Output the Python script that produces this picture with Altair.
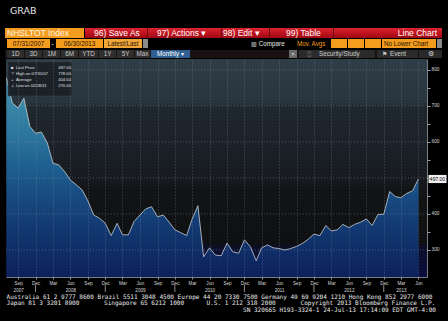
import altair as alt
import pandas as pd

# ---------------- data ----------------
month_dates = pd.date_range("2007-07-01", periods=72, freq="MS").strftime("%Y-%m-%d").tolist()
new_home_sales = [778, 708, 694, 721, 643, 624, 627, 597, 541, 536, 518, 494,
                  481, 467, 436, 397, 388, 374, 340, 374, 342, 342, 379, 397,
                  414, 420, 392, 397, 377, 356, 348, 340, 385, 423, 281, 306,
                  286, 284, 319, 295, 291, 328, 309, 270, 306, 314, 306, 304,
                  300, 304, 310, 318, 330, 344, 340, 368, 353, 356, 371, 362,
                  371, 377, 386, 368, 399, 399, 462, 448, 445, 457, 464, 497]
y_grid_levels = [300, 400, 500, 600, 700, 800]
y_tick_levels = [300, 350, 400, 450, 500, 550, 600, 650, 700, 750, 800]
x_tick_months = [(2007, 9), (2007, 12), (2008, 3), (2008, 6), (2008, 9), (2008, 12),
                 (2009, 3), (2009, 6), (2009, 9), (2009, 12), (2010, 3), (2010, 6),
                 (2010, 9), (2010, 12), (2011, 3), (2011, 6), (2011, 9), (2011, 12),
                 (2012, 3), (2012, 6), (2012, 9), (2012, 12), (2013, 3), (2013, 6)]
year_breaks = ["2007-12-01", "2008-12-01", "2009-12-01", "2010-12-01", "2011-12-01", "2012-12-01"]
legend_names = ["Last Price", "High on 07/31/07", "Average", "Low on 02/28/11"]
legend_values = ["497.00", "778.00", "404.64", "270.00"]
legend_icons = ["\u25a0", "\u22a4", "+", "\u22a5"]
footer_line1 = "Australia 61 2 9777 8600 Brazil 5511 3048 4500 Europe 44 20 7330 7500 Germany 49 69 9204 1210 Hong Kong 852 2977 6000"
footer_line2 = ["Japan 81 3 3201 8900", "Singapore 65 6212 1000", "U.S. 1 212 318 2000",
                "Copyright 2013 Bloomberg Finance L.P."]
footer_line3 = "SN 320665 H193-3324-1 24-Jul-13 17:14:09 EDT  GMT-4:00"

# ---------------- layout ----------------
W, H = 421, 218
PL, PT, PR, PB = 6, 59, 21, 44
SANS = "Liberation Sans"
MONO = "DejaVu Sans Mono"
one = alt.Data(values=[{"k": 0}])


def cx(x):
    return x - PL


def cy(y):
    return y - PT


def box(x0, y0, x1, y1, color, **kw):
    return alt.Chart(one).mark_rect(color=color, **kw).encode(
        x=alt.value(cx(x0)), x2=alt.value(cx(x1)), y=alt.value(cy(y0)), y2=alt.value(cy(y1)))


def label(x, y, s, size, color, align="left", font=SANS, weight="normal"):
    return alt.Chart(one).mark_text(text=s, fontSize=size, color=color, align=align,
                                    baseline="middle", font=font, fontWeight=weight).encode(
        x=alt.value(cx(x)), y=alt.value(cy(y)))


def grad(stops):
    return alt.LinearGradient(gradient="linear", x1=0, x2=0, y1=0, y2=1,
                              stops=[alt.GradientStop(color=c, offset=o) for c, o in stops])


xs = alt.Scale(type="utc", domain=[alt.DateTime(year=2007, month=6, date=29, utc=True),
                                   alt.DateTime(year=2013, month=7, date=16, utc=True)])
ys = alt.Scale(domain=[225, 830], zero=False, nice=False, clamp=True)

year_test = ("(utcmonth(datum.value) == 5 && utcyear(datum.value) >= 2008 && utcyear(datum.value) <= 2012)"
             " || (utcyear(datum.value) == 2007 && utcmonth(datum.value) == 8)"
             " || (utcyear(datum.value) == 2013 && utcmonth(datum.value) == 2)")
x_axis = alt.Axis(
    values=[alt.DateTime(year=y, month=m, date=1, utc=True) for y, m in x_tick_months],
    labelExpr="[utcFormat(datum.value, '%b'), (" + year_test + ") ? utcFormat(datum.value, '%Y') : '']",
    grid=True, gridColor="#8a96a0", gridDash=[1, 2], gridWidth=0.6, gridOpacity=0.75,
    domainColor="#9aa0a6", domainWidth=0.8, tickColor="#9aa0a6", tickSize=2,
    labelColor="#d8d8d8", labelFont=SANS, labelFontSize=4.6, labelPadding=1, labelLineHeight=7,
    labelFlush=False, labelOverlap=False, labelBound=False, title=None, zindex=1)
# the 500 label sits under the last-price tag, as in the terminal
y_axis = alt.Axis(
    orient="right", values=y_tick_levels,
    labelExpr="(datum.value % 100 == 0 && datum.value != 500) ? datum.label : ''",
    grid=False, domainColor="#9aa0a6", domainWidth=0.8, tickColor="#9aa0a6", tickSize=3,
    labelColor="#d8d8d8", labelFont=SANS, labelFontSize=4.8, labelPadding=1, title=None, zindex=1)

df = pd.DataFrame({"date": month_dates, "sales": new_home_sales})

bg = box(PL, PT, PL + W, PT + H, grad([
    ("#2f3d47", 0), ("#28353d", 0.2), ("#1f282e", 0.22), ("#1c2229", 0.38),
    ("#171a20", 0.55), ("#121415", 0.6), ("#0f1011", 0.84), ("#0c0e2c", 0.87), ("#0b0d3e", 1)]))

base = alt.Chart(df).encode(
    x=alt.X("date:T", scale=xs, axis=x_axis),
    y=alt.Y("sales:Q", scale=ys, axis=y_axis))
area = base.mark_area(color=grad([
    ("#4592ad", 0), ("#2f7ba0", 0.25), ("#1e5f8f", 0.45), ("#174a80", 0.6),
    ("#12366f", 0.78), ("#0c205c", 1)]))
line = base.mark_line(color="#c8d0d6", strokeWidth=0.8)

hgrid = alt.Chart(pd.DataFrame({"sales": y_grid_levels})).mark_rule(
    color="#8a96a0", strokeDash=[1, 2], strokeWidth=0.6, opacity=0.75).encode(
    y=alt.Y("sales:Q", scale=ys, axis=y_axis))

seps = alt.Chart(pd.DataFrame({"date": year_breaks})).mark_rule(color="#b0b0b0", strokeWidth=0.8).encode(
    x=alt.X("date:T", scale=xs, axis=x_axis), y=alt.value(H + 8), y2=alt.value(H + 15))

last_df = pd.DataFrame({"sales": [new_home_sales[-1]], "t": [f"{new_home_sales[-1]:.2f}"]})
tag_bg = alt.Chart(last_df).mark_point(shape="M-1,-0.45L1,-0.45L1,0.45L-1,0.45Z", filled=True,
                                       size=324, color="#f0f0f0", opacity=1).encode(
    x=alt.value(W + 10.5), y=alt.Y("sales:Q", scale=ys, axis=y_axis))
tag_txt = alt.Chart(last_df).mark_text(color="#000000", fontSize=5, font=SANS).encode(
    x=alt.value(W + 10.5), y=alt.Y("sales:Q", scale=ys, axis=y_axis), text="t:N")

# legend box inside plot
legend_layers = [box(8, 62, 72, 96, "#1a2127", stroke="#3a444c", strokeWidth=0.5, opacity=0.95)]
for i, (ic, nm, vl) in enumerate(zip(legend_icons, legend_names, legend_values)):
    yy = 68.3 + 6 * i
    legend_layers.append(label(11, yy, ic, 4.2, "#e8e8e8"))
    legend_layers.append(label(16, yy, nm, 4.2, "#e0e0e0"))
    legend_layers.append(label(71, yy, vl, 4.2, "#e0e0e0", align="right"))

ORANGE = "#f39c1d"
chrome = [
    label(10, 10.5, "GRAB", 9.5, "#e6e6e6", font="DejaVu Sans"),
    # row 1
    box(5, 28, 84, 38, ORANGE),
    label(7, 33.3, "NHSLTOT Index", 8.5, "#fff6e8"),
    box(85, 28, 442, 38, grad([("#dc2430", 0), ("#b8101c", 0.6), ("#9c0a16", 1)])),
    box(147, 28, 148, 38, "#6a0810"), box(221, 28, 222, 38, "#6a0810"),
    box(269, 28, 270, 38, "#6a0810"), box(333, 28, 334, 38, "#6a0810"),
    label(94, 33.3, "96) Save As", 8.5, "#ffffff"),
    label(157, 33.3, "97) Actions \u25be", 8.5, "#ffffff"),
    label(223, 33.3, "98) Edit \u25be", 8.5, "#ffffff"),
    label(286, 33.3, "99) Table", 8.5, "#ffffff"),
    label(437, 33.3, "Line Chart", 8.5, "#ffffff", align="right"),
    # row 2
    box(7, 39, 50, 48, ORANGE), label(28.5, 43.6, "07/31/2007", 6.3, "#1a1005", align="center"),
    box(50, 39, 55, 48, "#000000"), label(52.5, 43.6, "-", 6.3, "#ffffff", align="center"),
    box(56, 39, 103, 48, ORANGE), label(79.5, 43.6, "06/30/2013", 6.3, "#1a1005", align="center"),
    box(104, 39, 142, 48, "#f2a63a"), label(123, 43.6, "Latest/Last", 6.3, "#1a1005", align="center"),
    box(143, 39, 148, 48, "#8a8a8a"),
    label(251, 43.6, "\u25a5 Compare", 6.3, "#e8e8e8"),
    label(297, 43.6, "Mov. Avgs", 6.3, ORANGE),
    box(331, 39, 347, 48, ORANGE), box(348, 39, 364, 48, ORANGE), box(365, 39, 381, 48, ORANGE),
    box(382, 39, 436, 48, ORANGE), label(384, 43.6, "No Lower Chart", 6.3, "#1a1005"),
    box(437, 39, 442, 48, "#8a8a8a"),
    # row 3
    box(5, 50, 442, 58, "#1a1212"),
]
row3_buttons = [("1D", 7, 24), ("3D", 25, 42), ("1M", 43, 60), ("6M", 61, 78), ("YTD", 79, 98),
                ("1Y", 99, 116), ("5Y", 117, 134), ("Max", 135, 150)]
for t, a, b in row3_buttons:
    chrome.append(box(a, 50, b, 58, "#2e2e2e"))
    chrome.append(label((a + b) / 2, 54.2, t, 6.3, "#c8c8c8", align="center"))
chrome += [
    box(151, 50, 190, 58, "#2f5f92"), label(170.5, 54.2, "Monthly \u25be", 6.3, "#ffffff", align="center"),
    box(289, 50, 297, 58, "#6a6a6a"), label(293, 54.2, ">", 6, "#ffffff", align="center"),
    box(299, 50, 375, 58, "#2a2a2a"), label(307, 54.2, "\u2591", 6, "#d0d0d0"),
    label(319, 54.2, "Security/Study", 6.3, "#d0d0d0"),
    box(377, 50, 418, 58, "#2a2a2a"), label(382, 54.2, "\u2691", 6, "#d0d0d0"),
    label(390, 54.2, "Event", 6.3, "#d0d0d0"),
    box(419, 50, 442, 58, "#2a2a2a"), label(428, 54.2, "\u2699", 6.5, "#d0d0d0"),
    # footer
    label(6.5, 297, footer_line1, 6.05, "#e8e8e8", font=MONO),
    label(6.5, 303.3, footer_line2[0], 6.05, "#e8e8e8", font=MONO),
    label(104, 303.3, footer_line2[1], 6.05, "#e8e8e8", font=MONO),
    label(206.5, 303.3, footer_line2[2], 6.05, "#e8e8e8", font=MONO),
    label(300.5, 303.3, footer_line2[3], 6.05, "#e8e8e8", font=MONO),
    label(436, 309.6, footer_line3, 6.05, "#e8e8e8", align="right", font=MONO),
]

chart = alt.layer(
    bg, area, hgrid, line, seps, tag_bg, tag_txt, *legend_layers, *chrome
).properties(
    width=W, height=H,
    padding={"left": PL, "top": PT, "right": PR, "bottom": PB},
    autosize=alt.AutoSizeParams(type="none"),
    background="#000000",
).configure_view(stroke=None)

chart.save("out.html", embed_options={"renderer": "svg", "actions": False})
